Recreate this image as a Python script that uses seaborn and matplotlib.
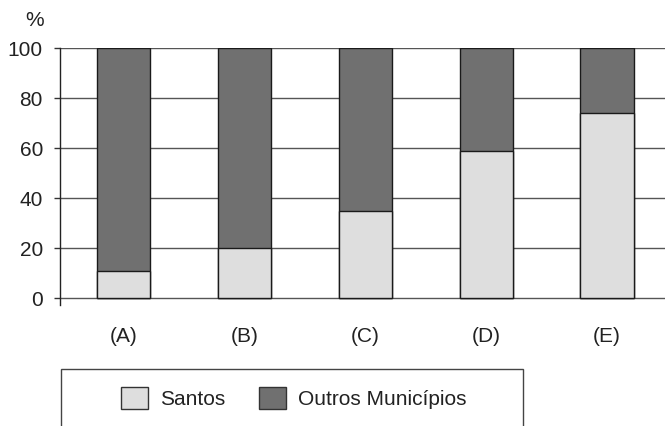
import matplotlib
matplotlib.use("Agg")
import matplotlib.pyplot as plt
import pandas as pd
import seaborn as sns
from matplotlib.patches import Patch, Rectangle

categorias = ["(A)", "(B)", "(C)", "(D)", "(E)"]
santos = [11, 20, 35, 59, 74]
outros = [89, 80, 65, 41, 26]
yticks = [0, 20, 40, 60, 80, 100]

cor_santos = "#dedede"
cor_outros = "#707070"

sns.set_style("white")
plt.rcParams["font.family"] = ["Liberation Sans", "DejaVu Sans"]

df = pd.DataFrame({"cat": categorias, "santos": santos, "outros": outros})
df["total"] = df["santos"] + df["outros"]

W, H = 665, 426
fig = plt.figure(figsize=(W / 100, H / 100), dpi=100)
ax = fig.add_axes([60 / W, (H - 305) / H, 1 - 60 / W, 257 / H])

# dark bar = full height, light bar drawn on top from 0
sns.barplot(data=df, x="cat", y="total", color=cor_outros, saturation=1,
            width=0.44, edgecolor="#1a1a1a", linewidth=1.0, ax=ax)
sns.barplot(data=df, x="cat", y="santos", color=cor_santos, saturation=1,
            width=0.44, edgecolor="#1a1a1a", linewidth=1.0, ax=ax)

ax.set_xlim(-0.525, 4.479)
ax.set_ylim(-2.8, 100)
ax.set_yticks(yticks)
ax.set_yticklabels([str(v) for v in yticks], fontsize=15, color="#222222")
ax.set_xlabel("")
ax.set_ylabel("")
ax.tick_params(axis="x", length=0, pad=16, labelsize=15, labelcolor="#222222")
ax.tick_params(axis="y", left=True, length=4.3, width=1, color="#333333",
               pad=8, direction="out")
ax.grid(axis="y", color="#555555", linewidth=1.0)
ax.set_axisbelow(True)
for s in ["top", "right", "bottom"]:
    ax.spines[s].set_visible(False)
ax.spines["left"].set_color("#222222")
ax.spines["left"].set_linewidth(1.0)

fig.text(35 / W, 1 - 20 / H, "%", fontsize=15, ha="center", va="center",
         color="#222222")

# legend box, runs off the bottom of the image
fig.patches.append(Rectangle((61 / W, -0.1), (523 - 61) / W, 0.1 + (H - 369) / H,
                             transform=fig.transFigure, fill=False,
                             edgecolor="#444444", linewidth=1.0))
handles = [Patch(facecolor=cor_santos, edgecolor="#333333", label="Santos"),
           Patch(facecolor=cor_outros, edgecolor="#333333", label="Outros Municípios")]
fig.legend(handles=handles, loc="center", bbox_to_anchor=(294 / W, 1 - 398 / H),
           ncol=2, frameon=False, fontsize=15, handlelength=1.3, handleheight=1.3,
           handletextpad=0.58, columnspacing=1.6, labelcolor="#222222")

fig.savefig("out.png", dpi=100)
